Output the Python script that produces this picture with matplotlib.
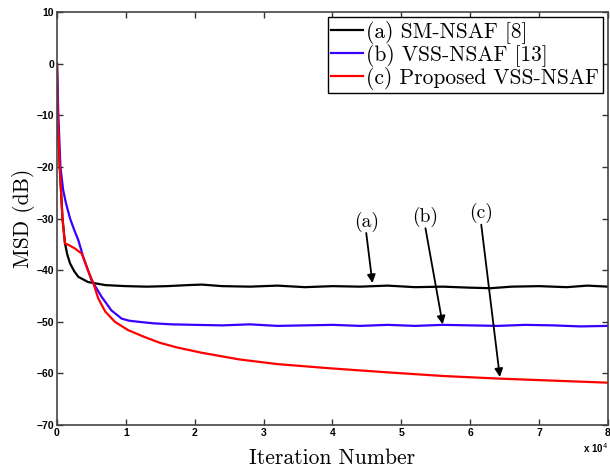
import matplotlib
matplotlib.use('Agg')
import matplotlib.pyplot as plt

# iterations in units of 1e4, MSD in dB
x_a = [0, 0.01, 0.04, 0.08, 0.116, 0.15, 0.19, 0.25, 0.31, 0.45, 0.7, 1.0,
       1.3, 1.6, 1.9, 2.1, 2.4, 2.8, 3.2, 3.6, 4.0, 4.4, 4.8, 5.2, 5.6, 6.0,
       6.3, 6.6, 7.0, 7.4, 7.7, 8.0]
msd_a = [0, -10, -20, -30, -34.8, -37.0, -38.7, -40.2, -41.3, -42.3, -42.9,
         -43.1, -43.2, -43.1, -42.9, -42.8, -43.1, -43.2, -43.0, -43.3, -43.1,
         -43.2, -43.0, -43.3, -43.2, -43.4, -43.5, -43.2, -43.1, -43.3, -43.0,
         -43.2]

x_b = [0, 0.02, 0.05, 0.09, 0.13, 0.19, 0.25, 0.31, 0.38, 0.5, 0.65, 0.79,
       0.94, 1.05, 1.18, 1.4, 1.66, 2.0, 2.4, 2.8, 3.2, 3.6, 4.0, 4.4, 4.8,
       5.2, 5.6, 6.0, 6.4, 6.8, 7.2, 7.6, 8.0]
msd_b = [0, -10, -20, -24.5, -27, -30, -32.2, -34.2, -37.4, -41.9, -45.2,
         -47.8, -49.4, -49.8, -50.0, -50.3, -50.5, -50.6, -50.7, -50.5, -50.8,
         -50.7, -50.6, -50.8, -50.6, -50.8, -50.6, -50.7, -50.8, -50.6, -50.7,
         -50.9, -50.8]

x_c = [0, 0.01, 0.04, 0.08, 0.116, 0.18, 0.26, 0.36, 0.45, 0.53, 0.6, 0.7,
       0.84, 1.03, 1.28, 1.5, 1.75, 2.1, 2.65, 3.2, 3.95, 4.8, 5.6, 6.4, 7.2,
       8.0]
msd_c = [0, -10, -20, -30, -34.8, -35.2, -35.8, -36.8, -40, -42.6, -45.5,
         -48.0, -50.0, -51.6, -53.0, -54.1, -55, -56, -57.3, -58.2, -59.0,
         -59.8, -60.5, -61.0, -61.4, -61.8]

labels = ['(a) SM-NSAF [8]', '(b) VSS-NSAF [13]', '(c) Proposed VSS-NSAF']
colors = ['black', '#3a00ff', 'red']

# annotation text positions and arrow heads
notes = ['(a)', '(b)', '(c)']
note_xy = [(4.49, -30.6), (5.35, -29.7), (6.16, -29.0)]
head_xy = [(4.58, -42.5), (5.60, -50.5), (6.43, -60.7)]

serif = 'cmr10'

fig = plt.figure(figsize=(6.1, 4.7), dpi=100)
ax = fig.add_axes([0.0934, 0.0957, 0.9033, 0.8788])

for xs, ys, c, lab in zip([x_a, x_b, x_c], [msd_a, msd_b, msd_c], colors, labels):
    ax.plot(xs, ys, color=c, linewidth=1.6, label=lab)

for txt, (tx, ty), (hx, hy) in zip(notes, note_xy, head_xy):
    ax.text(tx, ty, txt, family=serif, fontsize=14, ha='center', va='center')
    ax.annotate('', xy=(hx, hy), xytext=(tx, ty - 2.2),
                arrowprops=dict(arrowstyle='-|>', color='black', lw=1.3,
                                mutation_scale=12, shrinkA=0, shrinkB=0))

ax.set_xlim(0, 8)
ax.set_ylim(-70, 10)
ax.set_xticks(range(0, 9))
ax.set_yticks(range(-70, 11, 10))
ax.tick_params(direction='in', top=True, right=True, length=4, width=1,
               labelsize=7.5, pad=2, color='#333333')
for lbl in ax.get_xticklabels() + ax.get_yticklabels():
    lbl.set_fontweight('bold')
    lbl.set_family('Liberation Sans')
for s in ax.spines.values():
    s.set_color('#444444')
    s.set_linewidth(1.2)

ax.set_xlabel('Iteration Number', family=serif, fontsize=15.5, labelpad=8)
ax.set_ylabel('MSD (dB)', family=serif, fontsize=15.5, labelpad=1)
ax.text(1.0, -0.038, 'x 10$^4$', transform=ax.transAxes, ha='right', va='top',
        fontsize=7, fontweight='bold', family='Liberation Sans')

leg = ax.legend(loc='upper right', prop={'family': serif, 'size': 15.5},
                handlelength=1.5, handletextpad=0.15, borderpad=0.15,
                labelspacing=0.0, borderaxespad=0.25, fancybox=False,
                framealpha=1)
leg.get_frame().set_edgecolor('black')
leg.get_frame().set_linewidth(1.0)

fig.savefig('out.png', dpi=100)
